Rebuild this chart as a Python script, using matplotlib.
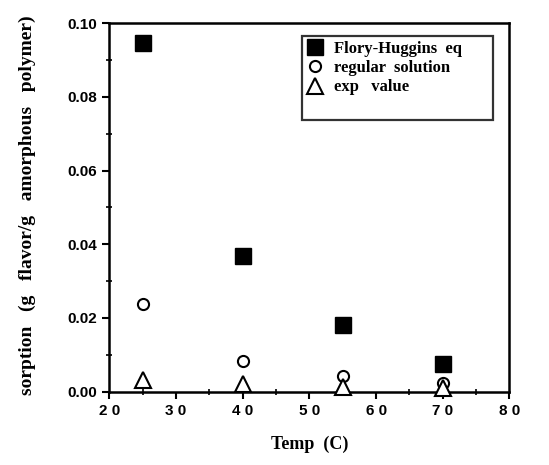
import matplotlib
matplotlib.use("Agg")
import matplotlib.pyplot as plt
from matplotlib.ticker import MultipleLocator

temps = [25, 40, 55, 70]
flory_huggins = [0.0946, 0.0368, 0.0181, 0.0075]
regular_solution = [0.0238, 0.0083, 0.0041, 0.0023]
exp_value = [0.0030, 0.0020, 0.0012, 0.0009]

x_ticks = [20, 30, 40, 50, 60, 70, 80]
x_tick_labels = ["2 0", "3 0", "4 0", "5 0", "6 0", "7 0", "8 0"]
y_ticks = [0.00, 0.02, 0.04, 0.06, 0.08, 0.10]
y_tick_labels = ["0.00", "0.02", "0.04", "0.06", "0.08", "0.10"]

serif = "Liberation Serif"
sans = "Liberation Sans"

fig = plt.figure(figsize=(5.49, 4.65), dpi=100)
ax = fig.add_axes([0.199, 0.158, 0.729, 0.792])

ax.plot(temps, flory_huggins, linestyle="none", marker="s", markersize=11,
        color="black", label="Flory-Huggins  eq", clip_on=False, zorder=3)
ax.plot(temps, regular_solution, linestyle="none", marker="o", markersize=8,
        markerfacecolor="white", markeredgecolor="black", markeredgewidth=1.5,
        label="regular  solution", clip_on=False, zorder=3)
ax.plot(temps, exp_value, linestyle="none", marker="^", markersize=11,
        markerfacecolor="white", markeredgecolor="black", markeredgewidth=1.5,
        label="exp   value", clip_on=False, zorder=3)
# blank row: the original legend box has empty space under the last entry
ax.plot([], [], linestyle="none", label=" ")

ax.set_xlim(20, 80)
ax.set_ylim(0, 0.10)
ax.set_xticks(x_ticks)
ax.set_xticklabels(x_tick_labels, fontfamily=sans, fontweight="bold", fontsize=11)
ax.set_yticks(y_ticks)
ax.set_yticklabels(y_tick_labels, fontfamily=sans, fontweight="bold", fontsize=11)
ax.xaxis.set_minor_locator(MultipleLocator(5))
ax.yaxis.set_minor_locator(MultipleLocator(0.01))
ax.tick_params(which="major", direction="out", length=5, width=1.5, pad=4)
ax.tick_params(which="minor", direction="inout", length=4, width=1.2)

for side in ax.spines.values():
    side.set_linewidth(1.8)

ax.set_xlabel("Temp  (C)", fontfamily=serif, fontweight="bold", fontsize=13, labelpad=13)
ax.set_ylabel("sorption   (g   flavor/g   amorphous   polymer)", fontfamily=serif,
              fontweight="bold", fontsize=14)
ax.yaxis.set_label_coords(-0.183, 0.507)

leg = ax.legend(loc="upper left", bbox_to_anchor=(0.482, 0.746, 0.476, 0.22),
                mode="expand",
                prop={"family": serif, "weight": "bold", "size": 12},
                frameon=True, fancybox=False, edgecolor="black",
                handletextpad=0.6, handlelength=1.0, borderpad=0.3,
                labelspacing=0.2, borderaxespad=0)
leg.get_frame().set_linewidth(1.6)

fig.savefig("out.png", dpi=100)
